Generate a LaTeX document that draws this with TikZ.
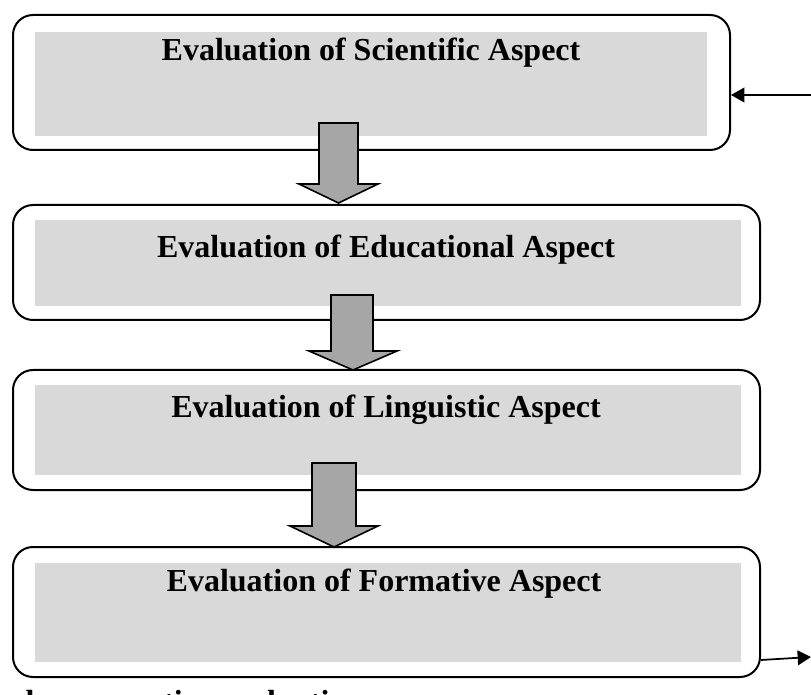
\documentclass[tikz,border=0pt]{standalone}
\usepackage{fontspec}
\setmainfont{Liberation Serif}
\usetikzlibrary{arrows.meta}
\definecolor{boxgray}{HTML}{D9D9D9}
\definecolor{arrgray}{HTML}{A6A6A6}
\begin{document}
\begin{tikzpicture}[x=0.75pt,y=-0.75pt,
  outerbox/.style={draw=black,line width=1.5pt,rounded corners=15pt,inner sep=0pt,fill=white},
  innerbox/.style={fill=boxgray,inner sep=0pt},
  txt/.style={font=\fontsize{24}{28}\selectfont\bfseries,anchor=base,inner sep=0pt},
  blockarrow/.style={fill=arrgray,draw=black,line width=1.2pt,line join=miter},
  sidearrow/.style={line width=1.3pt,-{Triangle[length=10pt,width=11pt]}}]
\useasboundingbox (0,0) rectangle (811,695);
\clip (0,0) rectangle (811,695);
\fill[white] (0,0) rectangle (811,695);
% outer boxes
\node[outerbox,minimum width=717*0.75pt,minimum height=135*0.75pt] (b1) at (371.5,82.5) {};
\node[outerbox,minimum width=747*0.75pt,minimum height=115*0.75pt] (b2) at (386.5,262.5) {};
\node[outerbox,minimum width=747*0.75pt,minimum height=120*0.75pt] (b3) at (386.5,430) {};
\node[outerbox,minimum width=747*0.75pt,minimum height=130*0.75pt] (b4) at (386.5,612) {};
% gray insets
\node[innerbox,minimum width=672*0.75pt,minimum height=104*0.75pt] (g1) at (371,84) {};
\node[innerbox,minimum width=706*0.75pt,minimum height=86*0.75pt] (g2) at (388,263) {};
\node[innerbox,minimum width=706*0.75pt,minimum height=90*0.75pt] (g3) at (388,430) {};
\node[innerbox,minimum width=706*0.75pt,minimum height=99*0.75pt] (g4) at (388,612.5) {};
% labels
\node[txt] (t1) at (371,61) {Evaluation of Scientific Aspect};
\node[txt] (t2) at (386,258) {Evaluation of Educational Aspect};
\node[txt] (t3) at (386,417) {Evaluation of Linguistic Aspect};
\node[txt] (t4) at (384,591) {Evaluation of Formative Aspect};
\node[txt,anchor=base west] (note) at (-37,712) {Final comparative evaluation};
% block arrows
\draw[blockarrow] (319,123) -- (358,123) -- (358,184) -- (378,184) -- (338.5,203)
  -- (299,184) -- (319,184) -- cycle;
\draw[blockarrow] (331,295) -- (373,295) -- (373,351) -- (397,351) -- (353,370)
  -- (309,351) -- (331,351) -- cycle;
\draw[blockarrow] (312,463) -- (356,463) -- (356,526) -- (378,526) -- (334,547)
  -- (290,526) -- (312,526) -- cycle;
% side arrows
\coordinate (inR) at (811,95);
\draw[sidearrow] (inR) -- (inR -| b1.east);
\coordinate (yref) at (0,660);
\coordinate (outR) at (811,657);
\draw[sidearrow] (b4.east |- yref) -- (outR);
\end{tikzpicture}
\end{document}
